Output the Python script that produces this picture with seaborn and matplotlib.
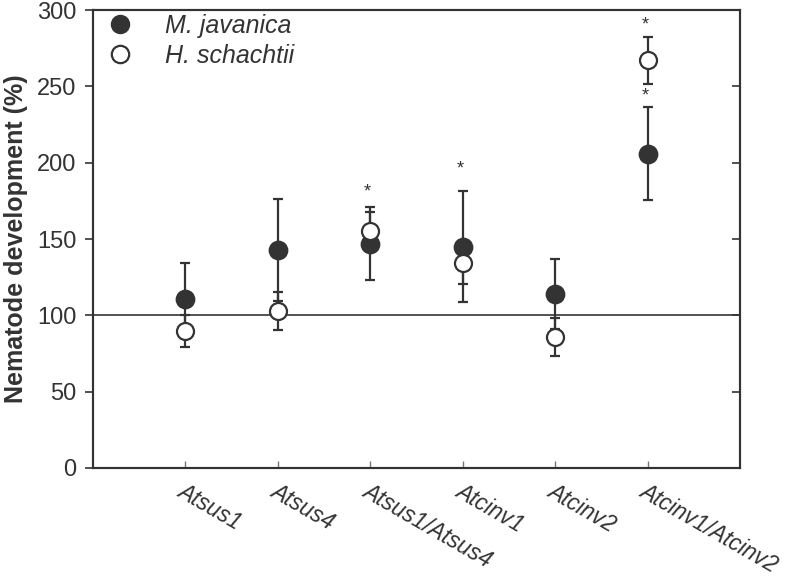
import matplotlib
matplotlib.use("Agg")
import matplotlib.pyplot as plt
from matplotlib.lines import Line2D
import seaborn as sns
import pandas as pd
import numpy as np

categories = ["Atsus1", "Atsus4", "Atsus1/Atsus4", "Atcinv1", "Atcinv2", "Atcinv1/Atcinv2"]
mj_mean = [111, 143, 147, 145, 114, 206]
mj_err = [23.5, 33.5, 24, 36.5, 23, 30.5]
hs_mean = [90, 103, 155, 134, 86, 267]
hs_err = [10.5, 12.5, 13, 13.5, 12.5, 15.5]
mj_star = [None, None, None, 196, None, 244]
hs_star = [None, None, 181, None, None, 290]
series_names = ["M. javanica", "H. schachtii"]
yticks = [0, 50, 100, 150, 200, 250, 300]

sns.set_style("ticks")
plt.rcParams['font.family'] = ['Liberation Sans', 'DejaVu Sans']
dark = "#333333"

x = np.arange(1, len(categories) + 1)
df = pd.DataFrame({
    "x": np.concatenate([x, x]),
    "value": mj_mean + hs_mean,
    "err": mj_err + hs_err,
    "series": [series_names[0]] * len(x) + [series_names[1]] * len(x),
})

fig = plt.figure(figsize=(8, 5.76), dpi=100)
ax = fig.add_axes([0.116, 0.1875, 0.809, 0.7951])

ax.axhline(100, color="#444444", lw=1.3, zorder=1)

for name in series_names:
    sub = df[df.series == name]
    ax.errorbar(sub["x"], sub["value"], yerr=sub["err"], fmt="none",
                ecolor=dark, elinewidth=1.6, capsize=3.5, capthick=1.6, zorder=2)
sns.scatterplot(data=df[df.series == series_names[0]], x="x", y="value", ax=ax,
                color=dark, edgecolor=dark, s=170, linewidth=1.2, zorder=3, legend=False)
sns.scatterplot(data=df[df.series == series_names[1]], x="x", y="value", ax=ax,
                color="white", edgecolor=dark, s=150, linewidth=1.6, zorder=4, legend=False)

for xi, s in zip(x, mj_star):
    if s is not None:
        ax.text(xi - 0.03, s, "*", ha="center", va="center", fontsize=13, color=dark)
for xi, s in zip(x, hs_star):
    if s is not None:
        ax.text(xi - 0.03, s, "*", ha="center", va="center", fontsize=13, color=dark)

ax.set_xlim(0, 7)
ax.set_ylim(0, 300)
ax.set_yticks(yticks)
ax.set_yticklabels([str(v) for v in yticks], fontsize=17, color=dark)
ax.set_xticks(x)
ax.set_xticklabels(categories, fontsize=16.3, style="italic", color=dark,
                   rotation=-30, ha="left", va="top", rotation_mode="anchor")
ax.tick_params(axis="y", direction="out", length=6, width=1.2, color=dark, pad=6)
ax.tick_params(axis="x", direction="in", length=5, width=1.0, color="#777777", pad=8)

ax2 = ax.twinx()
ax2.set_ylim(0, 300)
ax2.set_yticks(yticks)
ax2.tick_params(axis="y", direction="in", length=6, width=1.2, color=dark, labelright=False)

for a in (ax, ax2):
    for sp in a.spines.values():
        sp.set_visible(True)
        sp.set_color(dark)
        sp.set_linewidth(1.5)

ax.set_xlabel("")
ax.set_ylabel("Nematode development (%)", fontsize=18, fontweight="bold", color=dark, labelpad=6)

handles = [
    Line2D([], [], marker="o", ls="none", markersize=13, markerfacecolor=dark, markeredgecolor=dark),
    Line2D([], [], marker="o", ls="none", markersize=12.5, markerfacecolor="white",
           markeredgecolor=dark, markeredgewidth=1.6),
]
leg = ax.legend(handles, series_names, loc="upper left", bbox_to_anchor=(-0.023, 1.03),
                frameon=False, prop={"style": "italic", "size": 18}, handletextpad=0.8,
                labelspacing=0.25, borderaxespad=0.3)
for t in leg.get_texts():
    t.set_color(dark)

fig.savefig("out.png", dpi=100)
